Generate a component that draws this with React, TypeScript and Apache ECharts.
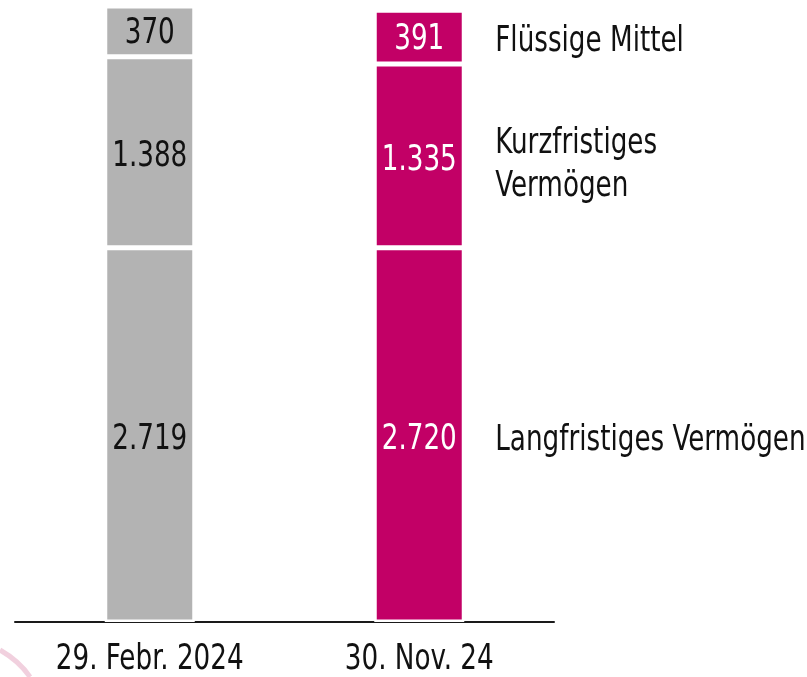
import React, { useEffect, useRef } from "react";
import * as echarts from "echarts";

const categories = ["29. Febr. 2024", "30. Nov. 24"];
const segmentNames = ["Langfristiges Vermögen", "Kurzfristiges\nVermögen", "Flüssige Mittel"];
const langfristig = [2719, 2720];
const kurzfristig = [1388, 1335];
const fluessig = [370, 391];

const FONT = "'DejaVu Sans Condensed', 'DejaVu Sans', sans-serif";
const GRAY = "#b3b3b3";
const MAGENTA = "#c20066";
const FS = 36;
const SX = 0.81;

function fmt(v: number): string {
  return v.toString().replace(/\B(?=(\d{3})+(?!\d))/g, ".");
}

export default function App() {
  const ref = useRef<HTMLDivElement>(null);
  useEffect(() => {
    if (!ref.current) return;
    const chart = echarts.init(ref.current, null, { renderer: "svg" });
    const segs = [langfristig, kurzfristig, fluessig];
    const series = segs.map((arr, si) => ({
      type: "bar",
      stack: "total",
      name: segmentNames[si],
      barWidth: 90,
      data: arr.map((v, ci) => ({
        value: v,
        itemStyle: { color: ci === 0 ? GRAY : MAGENTA, borderColor: "#ffffff", borderWidth: 2.5 },
      })),
    }));
    chart.setOption({
      animation: false,
      grid: { left: 15, width: 539, top: 0, bottom: 55 },
      xAxis: {
        type: "category",
        data: categories,
        axisLine: { lineStyle: { color: "#1a1a1a", width: 2 } },
        axisTick: { show: false },
        axisLabel: { show: false },
      },
      yAxis: { type: "value", min: 0, max: 4520, show: false, splitLine: { show: false } },
      series,
    });
    const texts: any[] = [];
    const mkText = (x: number, y: number, text: string, fill: string, align: string, lineHeight?: number) => ({
      type: "text",
      x,
      y,
      z: 100,
      scaleX: SX,
      style: {
        text,
        fontFamily: FONT,
        fontSize: FS,
        fill,
        verticalAlign: "middle",
        align,
        lineHeight: lineHeight || FS,
      },
    });
    // value labels inside the bars
    categories.forEach((cat, ci) => {
      let cum = 0;
      segs.forEach((arr, si) => {
        const v = arr[ci];
        const mid = cum + v / 2;
        cum += v;
        const pt = chart.convertToPixel({ xAxisIndex: 0, yAxisIndex: 0 }, [ci, mid]) as number[];
        texts.push(mkText(pt[0], pt[1] + (si === 2 ? 0 : 2), fmt(v), ci === 0 ? "#111111" : "#ffffff", "center"));
      });
      const base = chart.convertToPixel({ xAxisIndex: 0, yAxisIndex: 0 }, [ci, 0]) as number[];
      texts.push(mkText(base[0], base[1] + 35, cat, "#111111", "center", 30));
    });
    // right-side segment names
    let cum = 0;
    const offsets = [3, 7, 2];
    segs.forEach((arr, si) => {
      const v = arr[1];
      const mid = cum + v / 2;
      cum += v;
      const pt = chart.convertToPixel({ xAxisIndex: 0, yAxisIndex: 0 }, [1, mid]) as number[];
      texts.push(mkText(pt[0] + 76, pt[1] + offsets[si], segmentNames[si], "#111111", "left", 43));
    });
    texts.push({
      type: "bezierCurve",
      shape: { x1: 0, y1: 650, cpx1: 14, cpy1: 658, cpx2: 24, cpy2: 668, x2: 30, y2: 677 },
      style: { stroke: "rgba(215,120,160,0.35)", lineWidth: 5, fill: "none" },
    });
    chart.setOption({ graphic: texts });
    return () => chart.dispose();
  }, []);
  return <div ref={ref} style={{ position: "fixed", left: 0, top: 0, width: 807, height: 677 }} />;
}
